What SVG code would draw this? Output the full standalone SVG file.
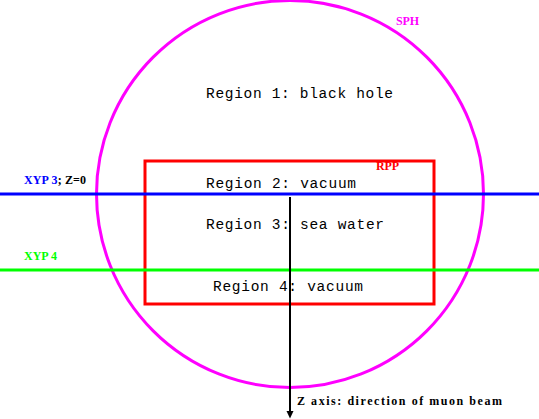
<svg xmlns="http://www.w3.org/2000/svg" width="539" height="419" viewBox="0 0 539 419">
<style>
.region{font-family:"Liberation Mono","DejaVu Sans Mono",monospace;font-size:14.5px;fill:#000}
.lbl{font-family:"Liberation Serif","Times New Roman",serif;font-weight:bold;font-size:12px}
</style>
<defs>
<marker id="arr" markerUnits="userSpaceOnUse" markerWidth="8" markerHeight="9" refX="0" refY="4" orient="auto" viewBox="0 -0.5 8 9" overflow="visible">
<path d="M0,0.5 L7.5,4 L0,7.5 Z" fill="#000"/>
</marker>
</defs>
<rect width="539" height="419" fill="#fff"/>
<g id="sph">
<circle cx="290" cy="194" r="193.5" fill="none" stroke="#ff00ff" stroke-width="3"/>
<text class="lbl" x="396" y="25" fill="#ff00ff" font-size="11.5" textLength="23">SPH</text>
</g>
<g id="rpp">
<rect x="145" y="161" width="289" height="143" fill="none" stroke="#ff0000" stroke-width="3"/>
<text class="lbl" x="376" y="169.5" fill="#ff0000" textLength="23">RPP</text>
</g>
<g id="region1"><text class="region" x="206" y="98" textLength="187">Region 1: black hole</text></g>
<g id="region2"><text class="region" x="206" y="188" textLength="150">Region 2: vacuum</text></g>
<g id="region3"><text class="region" x="206" y="229" textLength="178">Region 3: sea water</text></g>
<g id="region4"><text class="region" x="213" y="291" textLength="150">Region 4: vacuum</text></g>
<g id="xyp3">
<line x1="0" y1="194" x2="539" y2="194" stroke="#0000ff" stroke-width="3"/>
<text class="lbl" x="24" y="183.5" textLength="62"><tspan fill="#0000ff">XYP 3</tspan><tspan fill="#000">; Z=0</tspan></text>
</g>
<g id="xyp4">
<line x1="0" y1="270" x2="539" y2="270" stroke="#00ff00" stroke-width="3"/>
<text class="lbl" x="24" y="259.5" fill="#00ff00">XYP 4</text>
</g>
<g id="connectors">
<line x1="290" y1="197" x2="290" y2="411" stroke="#000" stroke-width="2" marker-end="url(#arr)"/>
</g>
<g id="zaxis">
<text class="lbl" x="297" y="404.5" font-size="15" fill="#000" textLength="205">Z axis: direction of muon beam</text>
</g>
</svg>
